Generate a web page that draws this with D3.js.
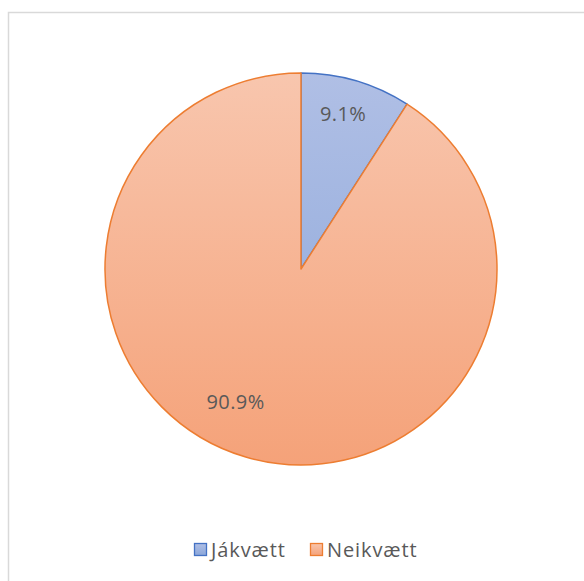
<!DOCTYPE html>
<html>
<head>
<meta charset="utf-8">
<script src="https://cdn.jsdelivr.net/npm/d3@7"></script>
<style>
  html, body { margin: 0; padding: 0; background: #fff; }
  svg { display: block; }
</style>
</head>
<body>
<svg id="chart" width="584" height="581"></svg>
<script>
// Survey answers: share of positive vs negative responses
const categories = ["Jákvætt", "Neikvætt"];
const values = [9.1, 90.9];
const labels = ["9.1%", "90.9%"];

const fillTop = ["#b0bfe5", "#f8c6ae"];
const fillBottom = ["#8aa6da", "#f5a279"];
const strokes = ["#4472c4", "#ed7d31"];

// label placement: angle shift (degrees) from slice middle, radius fraction
const labelAngleShift = [-1.2, 9.8];
const labelRadius = [0.82, 0.757];

const svg = d3.select("#chart");
const cx = 301, cy = 269, r = 196;
const font = "'Open Sans', 'Liberation Sans', sans-serif";

// chart area frame
svg.append("rect")
  .attr("x", 8.5).attr("y", 12.5)
  .attr("width", 600).attr("height", 600)
  .attr("fill", "#fff")
  .attr("stroke", "#d9d9d9").attr("stroke-width", 1.5);

const defs = svg.append("defs");
categories.forEach((c, i) => {
  const g = defs.append("linearGradient")
    .attr("id", "grad" + i)
    .attr("gradientUnits", "userSpaceOnUse")
    .attr("x1", 0).attr("y1", -r).attr("x2", 0).attr("y2", r);
  g.append("stop").attr("offset", "0%").attr("stop-color", fillTop[i]);
  g.append("stop").attr("offset", "100%").attr("stop-color", fillBottom[i]);
  const lg = defs.append("linearGradient")
    .attr("id", "lg" + i)
    .attr("x1", 0).attr("y1", 0).attr("x2", 0).attr("y2", 1);
  lg.append("stop").attr("offset", "0%").attr("stop-color", fillTop[i]);
  lg.append("stop").attr("offset", "100%").attr("stop-color", fillBottom[i]);
});

const pie = d3.pie().sort(null).value(d => d)(values);
const arc = d3.arc().innerRadius(0).outerRadius(r);

const g = svg.append("g").attr("transform", `translate(${cx},${cy})`);

g.selectAll("path.slice")
  .data(pie)
  .join("path")
  .attr("class", "slice")
  .attr("d", arc)
  .attr("fill", (d, i) => `url(#grad${i})`)
  .attr("stroke", (d, i) => strokes[i])
  .attr("stroke-width", 1.5)
  .attr("stroke-linejoin", "round");

// data labels
g.selectAll("text.lbl")
  .data(pie)
  .join("text")
  .attr("class", "lbl")
  .attr("transform", (d, i) => {
    const a = (d.startAngle + d.endAngle) / 2 + labelAngleShift[i] * Math.PI / 180;
    const rr = r * labelRadius[i];
    return `translate(${Math.sin(a) * rr},${-Math.cos(a) * rr + 7})`;
  })
  .attr("text-anchor", "middle")
  .attr("font-family", font)
  .attr("font-size", 20)
  .attr("letter-spacing", 0.4)
  .attr("fill", "#595959")
  .text((d, i) => labels[i]);

// legend
const legendX = [194, 310];
const leg = svg.append("g");
categories.forEach((c, i) => {
  leg.append("rect")
    .attr("x", legendX[i] + 0.5).attr("y", 543.5)
    .attr("width", 12).attr("height", 12)
    .attr("fill", `url(#lg${i})`)
    .attr("stroke", strokes[i]).attr("stroke-width", 1.3);
  leg.append("text")
    .attr("x", legendX[i] + 17).attr("y", 557)
    .attr("font-family", font)
    .attr("font-size", 20)
    .attr("letter-spacing", 0.9)
    .attr("fill", "#595959")
    .text(c);
});
</script>
</body>
</html>
